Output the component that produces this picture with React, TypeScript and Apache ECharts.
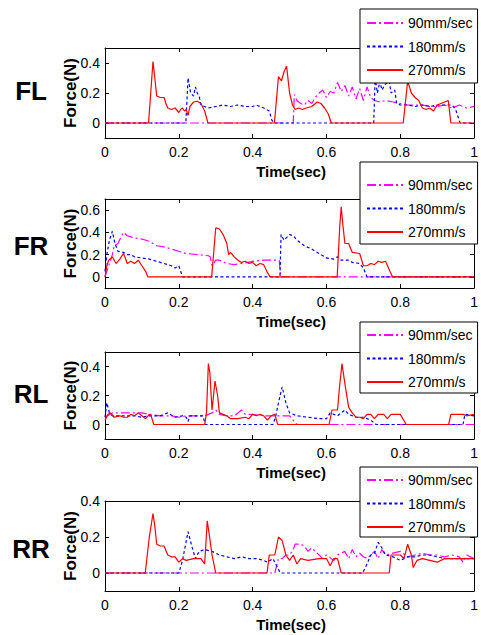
import React, { useEffect, useRef } from 'react';
import * as echarts from 'echarts';

// ---- Data: [time (sec), force (N)] ----
const FL_90 = [[0,0],[0.51,0],[0.513,0.19],[0.52,0.15],[0.53,0.13],[0.54,0.12],[0.55,0.15],[0.56,0.13],[0.57,0.17],[0.58,0.2],[0.59,0.22],[0.6,0.17],[0.61,0.21],[0.62,0.2],[0.63,0.27],[0.64,0.21],[0.65,0.25],[0.66,0.18],[0.67,0.24],[0.68,0.16],[0.69,0.23],[0.7,0.15],[0.71,0.24],[0.72,0.17],[0.73,0.15],[0.745,0.14],[0.76,0.15],[0.78,0.14],[0.8,0.13],[0.82,0.12],[0.84,0.12],[0.86,0.12],[0.88,0.11],[0.9,0.11],[0.92,0.12],[0.94,0.1],[0.96,0.12],[0.98,0.1],[1,0.11]];
const FL_180 = [[0,0],[0.219,0],[0.225,0.3],[0.232,0.2],[0.24,0.18],[0.245,0.24],[0.25,0.2],[0.255,0.18],[0.26,0.12],[0.27,0.11],[0.28,0.1],[0.3,0.11],[0.32,0.12],[0.34,0.11],[0.36,0.12],[0.38,0.11],[0.4,0.11],[0.41,0.12],[0.42,0.11],[0.43,0.1],[0.445,0.08],[0.452,0.02],[0.457,0],[0.728,0],[0.732,0.3],[0.738,0.2],[0.745,0.28],[0.75,0.22],[0.76,0.26],[0.77,0.28],[0.775,0.2],[0.785,0.22],[0.79,0.13],[0.8,0.12],[0.82,0.12],[0.84,0.11],[0.86,0.12],[0.88,0.11],[0.9,0.12],[0.92,0.12],[0.94,0.12],[0.95,0.09],[0.962,0],[1,0]];
const FL_270 = [[0,0],[0.118,0],[0.13,0.41],[0.135,0.3],[0.14,0.18],[0.15,0.17],[0.16,0.17],[0.165,0.13],[0.17,0.1],[0.18,0.09],[0.19,0.1],[0.2,0.07],[0.205,0.09],[0.21,0.1],[0.215,0.08],[0.22,0.09],[0.225,0.05],[0.23,0.11],[0.24,0.14],[0.25,0.145],[0.26,0.13],[0.27,0.08],[0.279,0],[0.459,0],[0.47,0.31],[0.478,0.28],[0.485,0.34],[0.492,0.38],[0.5,0.2],[0.508,0.12],[0.515,0.09],[0.525,0.1],[0.535,0.09],[0.545,0.1],[0.56,0.11],[0.575,0.14],[0.585,0.13],[0.595,0.1],[0.605,0.06],[0.613,0],[0.808,0],[0.82,0.28],[0.83,0.2],[0.84,0.17],[0.85,0.15],[0.86,0.1],[0.87,0.09],[0.88,0.1],[0.89,0.08],[0.9,0.12],[0.91,0.13],[0.92,0.14],[0.93,0.15],[0.937,0],[1,0]];

const FR_90 = [[0,0],[0.01,0.1],[0.02,0.2],[0.025,0.28],[0.035,0.3],[0.045,0.37],[0.05,0.4],[0.06,0.37],[0.08,0.35],[0.1,0.34],[0.12,0.32],[0.14,0.28],[0.16,0.27],[0.18,0.25],[0.2,0.23],[0.22,0.21],[0.25,0.2],[0.28,0.19],[0.285,0.18],[0.29,0.1],[0.3,0.15],[0.31,0.15],[0.33,0.12],[0.35,0.11],[0.37,0.12],[0.4,0.14],[0.43,0.15],[0.46,0.15],[0.472,0.15],[0.476,0],[1,0]];
const FR_180 = [[0,0.05],[0.005,0.2],[0.012,0.33],[0.02,0.41],[0.027,0.3],[0.035,0.23],[0.05,0.22],[0.06,0.2],[0.07,0.2],[0.08,0.18],[0.1,0.17],[0.12,0.16],[0.14,0.14],[0.16,0.12],[0.18,0.1],[0.19,0.08],[0.2,0.1],[0.205,0.05],[0.21,0],[0.474,0],[0.477,0.38],[0.485,0.33],[0.5,0.38],[0.51,0.37],[0.52,0.33],[0.54,0.28],[0.56,0.25],[0.58,0.21],[0.6,0.17],[0.62,0.16],[0.63,0.18],[0.64,0.15],[0.66,0.15],[0.67,0.13],[0.69,0.12],[0.7,0.08],[0.71,0],[1,0]];
const FR_270 = [[0,0],[0.005,0.1],[0.01,0.15],[0.02,0.18],[0.03,0.12],[0.04,0.16],[0.05,0.21],[0.055,0.17],[0.06,0.12],[0.07,0.14],[0.08,0.12],[0.09,0.15],[0.1,0.1],[0.11,0.05],[0.116,0],[0.289,0],[0.3,0.44],[0.31,0.43],[0.32,0.38],[0.33,0.3],[0.335,0.2],[0.34,0.22],[0.35,0.18],[0.36,0.15],[0.37,0.13],[0.38,0.14],[0.39,0.12],[0.4,0.13],[0.41,0.1],[0.42,0.12],[0.43,0.11],[0.44,0.04],[0.447,0],[0.629,0],[0.636,0.45],[0.64,0.63],[0.645,0.45],[0.65,0.3],[0.66,0.3],[0.67,0.22],[0.69,0.21],[0.7,0.1],[0.71,0.1],[0.72,0.12],[0.73,0.11],[0.74,0.14],[0.75,0.13],[0.76,0.14],[0.772,0.05],[0.779,0],[1,0]];

const RL_90 = [[0,0.05],[0.02,0.08],[0.05,0.08],[0.08,0.08],[0.1,0.08],[0.12,0.07],[0.15,0.06],[0.18,0.06],[0.2,0.05],[0.22,0.06],[0.25,0.06],[0.27,0.06],[0.29,0.08],[0.3,0.1],[0.31,0.07],[0.33,0.06],[0.35,0.06],[0.37,0.1],[0.38,0.07],[0.4,0.07],[0.43,0.06],[0.46,0.06],[0.48,0.06],[0.5,0.06],[0.51,0.03],[0.52,0],[1,0]];
const RL_180 = [[0,0.05],[0.005,0.15],[0.012,0.08],[0.02,0.06],[0.05,0.06],[0.08,0.06],[0.1,0.05],[0.12,0.06],[0.15,0.06],[0.17,0.08],[0.19,0.05],[0.21,0.06],[0.22,0.05],[0.225,0.02],[0.23,0.06],[0.25,0.06],[0.265,0.06],[0.272,0],[0.455,0],[0.462,0.05],[0.47,0.15],[0.48,0.26],[0.49,0.15],[0.5,0.08],[0.52,0.06],[0.55,0.05],[0.58,0.04],[0.6,0.04],[0.61,0.08],[0.63,0.06],[0.65,0.1],[0.66,0.07],[0.68,0.05],[0.7,0.05],[0.72,0.03],[0.735,0],[0.97,0],[0.975,0.07],[1,0.06]];
const RL_270 = [[0,0.03],[0.008,0.07],[0.015,0.08],[0.025,0.05],[0.04,0.06],[0.05,0.05],[0.06,0.05],[0.07,0.07],[0.08,0.06],[0.09,0.08],[0.1,0.06],[0.11,0.04],[0.12,0.07],[0.125,0.06],[0.132,0],[0.27,0],[0.275,0.08],[0.28,0.42],[0.284,0.36],[0.29,0.1],[0.298,0.3],[0.305,0.2],[0.31,0.08],[0.32,0.07],[0.33,0.06],[0.34,0.04],[0.36,0.04],[0.38,0.05],[0.39,0.04],[0.4,0.07],[0.41,0.06],[0.42,0.07],[0.43,0.06],[0.44,0.03],[0.45,0.06],[0.46,0.07],[0.468,0],[0.607,0],[0.615,0.1],[0.63,0.1],[0.635,0.25],[0.642,0.42],[0.65,0.28],[0.66,0.12],[0.67,0.08],[0.68,0.05],[0.69,0.05],[0.7,0.04],[0.71,0.07],[0.72,0.07],[0.73,0.04],[0.74,0.07],[0.755,0.07],[0.765,0.04],[0.775,0.07],[0.8,0.07],[0.816,0],[0.931,0],[0.937,0.07],[0.97,0.07],[0.98,0.06],[1,0.07]];

const RR_90 = [[0,0],[0.46,0],[0.465,0.04],[0.47,0.08],[0.48,0.08],[0.49,0.1],[0.5,0.1],[0.51,0.13],[0.515,0.16],[0.53,0.16],[0.54,0.15],[0.55,0.12],[0.56,0.14],[0.57,0.12],[0.58,0.1],[0.59,0.08],[0.6,0.1],[0.62,0.07],[0.63,0.1],[0.65,0.12],[0.66,0.08],[0.67,0.13],[0.68,0.09],[0.69,0.11],[0.7,0.09],[0.71,0.08],[0.72,0.1],[0.73,0.12],[0.74,0.08],[0.75,0.13],[0.76,0.1],[0.78,0.11],[0.8,0.12],[0.82,0.09],[0.84,0.1],[0.86,0.11],[0.88,0.1],[0.9,0.1],[0.92,0.09],[0.94,0.1],[0.96,0.09],[0.97,0.06],[0.98,0.1],[1,0.08]];
const RR_180 = [[0,0],[0.2,0],[0.21,0.07],[0.225,0.23],[0.235,0.15],[0.245,0.08],[0.255,0.12],[0.27,0.13],[0.29,0.12],[0.31,0.1],[0.33,0.09],[0.35,0.08],[0.37,0.09],[0.39,0.08],[0.41,0.08],[0.43,0.07],[0.44,0.06],[0.455,0.08],[0.465,0.04],[0.475,0],[0.698,0],[0.71,0.05],[0.72,0.1],[0.73,0.11],[0.74,0.17],[0.75,0.14],[0.76,0.1],[0.78,0.09],[0.8,0.07],[0.81,0.08],[0.82,0.09],[0.84,0.09],[0.86,0.1],[0.88,0.1],[0.9,0.09],[0.92,0.08],[0.95,0.08],[0.98,0.08],[1,0.08]];
const RR_270 = [[0,0],[0.109,0],[0.12,0.2],[0.13,0.33],[0.135,0.26],[0.14,0.16],[0.15,0.15],[0.16,0.15],[0.17,0.1],[0.18,0.09],[0.19,0.09],[0.2,0.06],[0.21,0.08],[0.22,0.07],[0.24,0.08],[0.26,0.08],[0.27,0.05],[0.277,0.29],[0.282,0.22],[0.29,0.1],[0.3,0],[0.439,0],[0.445,0.1],[0.46,0.1],[0.47,0.2],[0.48,0.18],[0.49,0.1],[0.5,0.07],[0.51,0.1],[0.52,0.05],[0.53,0.08],[0.55,0.07],[0.58,0.08],[0.6,0.08],[0.61,0.04],[0.62,0.08],[0.63,0.08],[0.64,0],[0.77,0],[0.775,0.1],[0.8,0.1],[0.81,0.08],[0.82,0.16],[0.83,0.1],[0.835,0.03],[0.845,0.07],[0.86,0.08],[0.88,0.07],[0.9,0.06],[0.92,0.08],[0.95,0.08],[1,0.08]];

const SERIES_NAMES = ['90mm/sec', '180mm/s', '270mm/s'];
const PANEL_LABELS = ['FL', 'FR', 'RL', 'RR'];
const Y_MAX = [0.5, 0.7, 0.5, 0.4];
const Y_TICKS = [[0, 0.2, 0.4], [0, 0.2, 0.4, 0.6], [0, 0.2, 0.4], [0, 0.2, 0.4]];
const PANEL_DATA = [
  [FL_90, FL_180, FL_270],
  [FR_90, FR_180, FR_270],
  [RL_90, RL_180, RL_270],
  [RR_90, RR_180, RR_270],
];

// ---- Styling / layout ----
const COLORS = ['#ff00ff', '#0000ff', '#ff0000'];
const DASHES: any[] = [[9, 3, 2, 3], [3, 2.5], 'solid'];
const FONT = '"Liberation Sans", Arial, sans-serif';
const LAYOUT = [
  { top: 48, height: 90, legendTop: 9, legendPad: [7, 5, 6, 6], labelY: 91 },
  { top: 199, height: 89, legendTop: 162, legendPad: [16, 5, 5, 6], labelY: 246 },
  { top: 352, height: 87, legendTop: 322, legendPad: [6, 5, 4, 6], labelY: 394 },
  { top: 501, height: 90, legendTop: 467, legendPad: [6, 5, 3, 6], labelY: 549 },
];
const GRID_LEFT = 105;
const GRID_WIDTH = 372;

function buildOption() {
  const grid: any[] = [];
  const xAxis: any[] = [];
  const yAxis: any[] = [];
  const series: any[] = [];
  const legend: any[] = [];
  const graphic: any[] = [];

  LAYOUT.forEach((L, i) => {
    grid.push({ left: GRID_LEFT, top: L.top, width: GRID_WIDTH, height: L.height, containLabel: false });
    const axisLine = { show: true, onZero: false, lineStyle: { color: '#000', width: 1 } };
    const tick = { show: true, inside: true, length: 4, lineStyle: { color: '#000', width: 1 } };
    const label = { color: '#000', fontSize: 14, fontFamily: FONT };
    xAxis.push({
      type: 'value', gridIndex: i, min: 0, max: 1, interval: 0.2, position: 'bottom',
      axisLine, axisTick: tick, axisLabel: { ...label, margin: 7 }, splitLine: { show: false },
    });
    xAxis.push({
      type: 'value', gridIndex: i, min: 0, max: 1, interval: 0.2, position: 'top',
      axisLine, axisTick: tick, axisLabel: { show: false }, splitLine: { show: false },
    });
    yAxis.push({
      type: 'value', gridIndex: i, min: -0.1, max: Y_MAX[i], interval: 0.1, position: 'left',
      axisLine, axisTick: { ...tick, customValues: Y_TICKS[i] },
      axisLabel: { ...label, margin: 5, customValues: Y_TICKS[i] }, splitLine: { show: false },
    });
    yAxis.push({
      type: 'value', gridIndex: i, min: -0.1, max: Y_MAX[i], interval: 0.1, position: 'right',
      axisLine, axisTick: { ...tick, customValues: Y_TICKS[i] },
      axisLabel: { show: false }, splitLine: { show: false },
    });

    PANEL_DATA[i].forEach((d, k) => {
      series.push({
        type: 'line', name: SERIES_NAMES[k], xAxisIndex: 2 * i, yAxisIndex: 2 * i,
        data: d, symbol: 'none', showSymbol: false, silent: true, z: 2 + k,
        lineStyle: { color: COLORS[k], width: 1.2, type: DASHES[k] },
        itemStyle: { color: COLORS[k] },
      });
    });

    legend.push({
      orient: 'vertical', left: 360, top: L.legendTop, padding: L.legendPad,
      itemWidth: 36, itemHeight: 14, itemGap: 9.5,
      backgroundColor: '#fff', borderColor: '#000', borderWidth: 1, borderRadius: 0,
      textStyle: { fontSize: 14, fontFamily: FONT, color: '#000' },
      itemStyle: { opacity: 0, borderWidth: 0 },
      data: SERIES_NAMES, z: 10, selectedMode: false,
    });

    graphic.push({
      type: 'text', x: 31, y: L.labelY,
      style: { text: PANEL_LABELS[i], fill: '#000', font: `bold 26px ${FONT}`, align: 'center', verticalAlign: 'middle' },
    });
    graphic.push({
      type: 'text', x: 70, y: L.top + L.height / 2, rotation: Math.PI / 2,
      style: { text: 'Force(N)', fill: '#000', font: `bold 17px ${FONT}`, align: 'center', verticalAlign: 'middle' },
    });
    graphic.push({
      type: 'text', x: GRID_LEFT + GRID_WIDTH / 2, y: L.top + L.height + 33,
      style: { text: 'Time(sec)', fill: '#000', font: `bold 15px ${FONT}`, align: 'center', verticalAlign: 'middle' },
    });
  });

  return {
    animation: false,
    backgroundColor: '#fff',
    grid, xAxis, yAxis, series, legend, graphic,
  };
}

export default function App() {
  const ref = useRef<HTMLDivElement>(null);
  useEffect(() => {
    if (!ref.current) return;
    const chart = echarts.init(ref.current, undefined, { renderer: 'svg' });
    chart.setOption(buildOption() as any);
    return () => chart.dispose();
  }, []);
  return (
    <div
      ref={ref}
      style={{ position: 'absolute', left: 0, top: 0, width: 481, height: 635, background: '#fff' }}
    />
  );
}
